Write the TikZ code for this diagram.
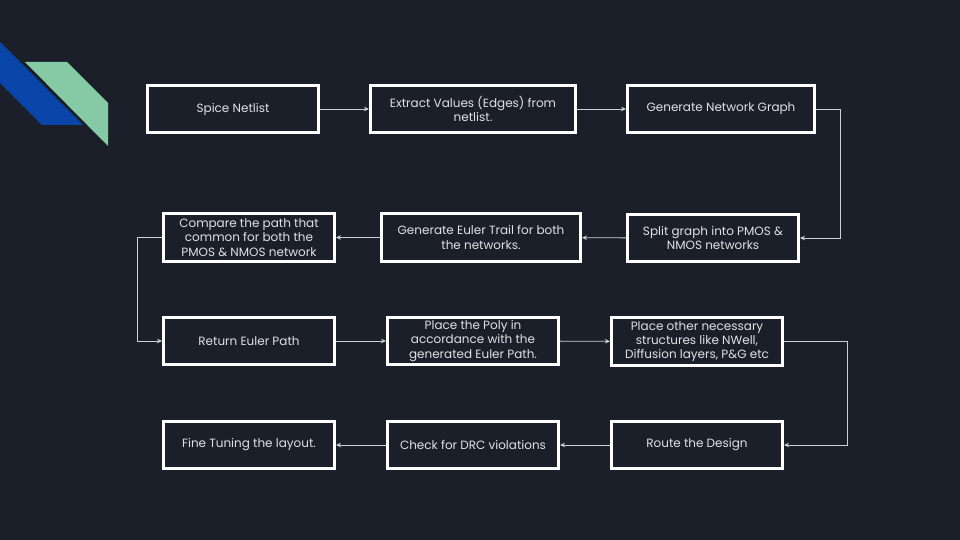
\documentclass[tikz,border=0pt]{standalone}
\usepackage{fontspec}
\setmainfont{Poppins}
\usepackage{xcolor}
\usetikzlibrary{arrows.meta, positioning, calc}
\definecolor{bgdark}{RGB}{27,31,42}
\definecolor{boxtext}{RGB}{225,225,228}
\definecolor{linegray}{RGB}{205,207,212}
\definecolor{decoblue}{RGB}{10,70,170}
\definecolor{decogreen}{RGB}{133,201,165}
\tikzset{
	block/.style={rectangle, draw=white, line width=3pt, fill=bgdark, text=boxtext, align=center, minimum width=171pt, minimum height=47pt, inner sep=2pt, font=\fontsize{12}{14.2}\selectfont},
	line/.style={draw=linegray, line width=0.9pt, -{Stealth[length=5pt, width=4.5pt]}}
}

\begin{document}
\begin{tikzpicture}[x=1pt, y=-1pt]
	% Background and corner decoration
	\fill[bgdark] (0,0) rectangle (960,540);
	\fill[decoblue] (0,42) -- (83,125) -- (42,125) -- (0,83) -- cycle;
	\fill[decogreen] (25,62) -- (67,62) -- (108,103) -- (108,146) -- cycle;

	% Row 1
	\node[block] (netlist) at (233,109) {Spice Netlist};
	\node[block, minimum width=205pt] (extract) at (473,109) {Extract Values (Edges) from\\netlist.};
	\node[block, minimum width=187pt] (graph) at (721,109) {Generate Network Graph};

	% Row 2
	\node[block] (split) at (713,238) {Split graph into PMOS \&\\NMOS networks};
	\node[block, minimum width=199pt, minimum height=48pt] (euler) at (481,237.5) {Generate Euler Trail for both\\the networks.};
	\node[block, minimum height=48pt] (compare) at (249,237.5) {Compare the path that\\common for both the\\PMOS \& NMOS network};

	% Row 3
	\node[block] (ret) at (249,341) {Return Euler Path};
	\node[block] (poly) at (473,341) {Place the Poly in\\accordance with the\\generated Euler Path.};
	\node[block, minimum height=48pt] (place) at (697,341.5) {Place other necessary\\structures like NWell,\\Diffusion layers, P\&G etc};

	% Row 4
	\node[block] (route) at (697,445) {Route the Design};
	\node[block] (drc) at (473,445) {Check for DRC violations};
	\node[block] (tune) at (249,445) {Fine Tuning the layout.};

	% Connectors
	\draw[line] (netlist) -- (extract);
	\draw[line] (extract) -- (graph);
	\draw[line] (graph.east) -- +(24,0) |- (split.east);
	\draw[line] (split) -- (euler);
	\draw[line] (euler) -- (compare);
	\draw[line] (compare.west) -- +(-25,0) |- (ret.west);
	\draw[line] (ret) -- (poly);
	\draw[line] (poly) -- (place);
	\draw[line] (place.east) -- +(63,0) |- (route.east);
	\draw[line] (route) -- (drc);
	\draw[line] (drc) -- (tune);
\end{tikzpicture}
\end{document}
